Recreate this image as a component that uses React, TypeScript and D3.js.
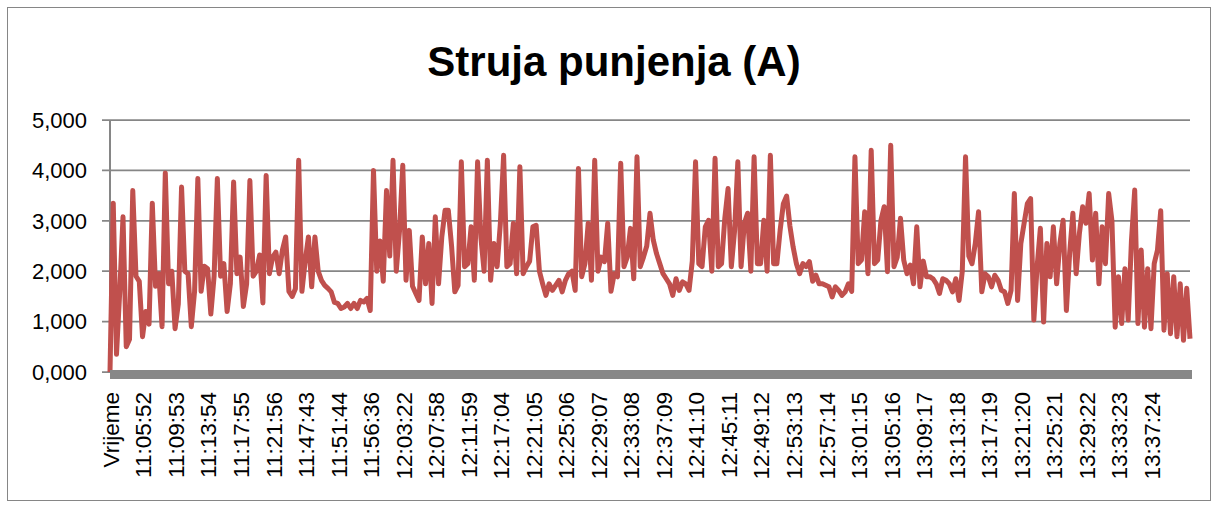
import React, { useEffect, useRef } from 'react';
import * as d3 from 'd3';

// x labels, one every 10 readings (first category is the header row)
const timeLabels = [
    'Vrijeme', '11:05:52', '11:09:53', '11:13:54', '11:17:55', '11:21:56', '11:47:43',
    '11:51:44', '11:56:36', '12:03:22', '12:07:58', '12:11:59', '12:17:04', '12:21:05',
    '12:25:06', '12:29:07', '12:33:08', '12:37:09', '12:41:10', '12:45:11', '12:49:12',
    '12:53:13', '12:57:14', '13:01:15', '13:05:16', '13:09:17', '13:13:18', '13:17:19',
    '13:21:20', '13:25:21', '13:29:22', '13:33:23', '13:37:24'
];
const labelEvery = 10;

const yTicks = [0, 1, 2, 3, 4, 5];

// Struja punjenja (A)
const current = [
    0, 3.35, 0.35, 1.6, 3.08, 0.5, 0.65, 3.6, 1.9, 1.8,
    0.7, 1.2, 0.95, 3.35, 1.7, 1.95, 0.9, 3.95, 1.75, 2.0,
    0.86, 1.35, 3.67, 2.0, 1.95, 0.9, 1.6, 3.84, 1.6, 2.1,
    2.05, 1.15, 1.9, 3.84, 1.9, 2.15, 1.2, 1.75, 3.77, 1.95,
    2.28, 1.3, 1.75, 3.8, 1.9, 2.0, 2.32, 1.37, 3.9, 1.95,
    2.28, 2.38, 1.95, 2.42, 2.68, 1.6, 1.5, 1.65, 4.2, 1.6,
    2.2, 2.68, 1.69, 2.68, 2.0, 1.82, 1.72, 1.66, 1.59, 1.38,
    1.36, 1.26, 1.29, 1.36, 1.26, 1.36, 1.26, 1.42, 1.39, 1.46,
    1.22, 4.0, 2.0, 2.6, 1.8, 3.6, 2.3, 4.2, 2.0, 2.8,
    4.1, 1.82, 2.81, 1.7, 1.56, 1.42, 2.68, 1.75, 2.55, 1.36,
    3.08, 1.75, 2.68, 3.21, 3.21, 2.5, 1.59, 1.72, 4.17, 2.09,
    2.15, 2.88, 1.82, 4.17, 2.68, 2.0, 4.2, 1.82, 2.55, 2.09,
    2.95, 4.3, 2.09, 2.15, 2.95, 1.95, 4.07, 1.95, 2.09, 2.2,
    2.88, 2.91, 2.0, 1.75, 1.52, 1.75, 1.62, 1.72, 1.82, 1.59,
    1.82, 1.95, 2.0, 1.62, 4.04, 1.89, 2.15, 2.95, 1.82, 4.2,
    2.0, 2.28, 2.19, 2.95, 1.6, 1.95, 1.89, 4.14, 2.09, 2.28,
    2.85, 1.85, 4.27, 2.09, 2.28, 2.5, 3.15, 2.62, 2.35, 2.15,
    1.95, 1.85, 1.75, 1.52, 1.85, 1.62, 1.79, 1.75, 1.62, 2.2,
    4.17, 2.15, 2.09, 2.88, 3.01, 2.0, 4.24, 2.09, 2.15, 3.05,
    3.64, 2.09, 2.8, 4.17, 2.09, 2.95, 3.15, 2.0, 4.27, 2.15,
    2.15, 3.01, 2.0, 4.3, 2.15, 2.15, 2.81, 3.34, 3.49, 2.9,
    2.48, 2.15, 1.95, 2.15, 2.09, 2.19, 1.8, 1.92, 1.75, 1.75,
    1.72, 1.69, 1.49, 1.69, 1.62, 1.52, 1.59, 1.75, 1.6, 4.27,
    2.15, 2.22, 3.18, 1.95, 4.4, 2.15, 2.22, 3.01, 3.28, 1.99,
    4.5, 2.09, 2.28, 3.05, 2.22, 1.95, 2.12, 1.75, 2.88, 1.69,
    2.2, 1.89, 1.89, 1.85, 1.75, 1.56, 1.85, 1.82, 1.75, 1.59,
    1.85, 1.42, 2.0, 4.27, 2.3, 2.15, 2.55, 3.18, 1.59, 1.95,
    1.89, 1.69, 1.92, 1.82, 1.62, 1.59, 1.36, 1.62, 3.54, 1.42,
    2.55, 2.95, 3.34, 3.44, 1.03, 2.09, 2.85, 0.99, 2.55, 1.89,
    2.88, 1.75, 2.55, 3.01, 1.22, 2.35, 3.15, 1.95, 2.75, 3.28,
    2.95, 3.54, 2.22, 3.15, 1.75, 2.88, 2.15, 3.54, 3.0, 0.89,
    1.89, 0.96, 2.05, 1.03, 2.6, 3.61, 0.96, 2.42, 0.89, 2.05,
    0.86, 2.15, 2.42, 3.2, 0.83, 1.95, 0.76, 1.89, 0.7, 1.75,
    0.63, 1.66, 0.66
];

const hrFormat = d3.formatLocale({
    decimal: ',', thousands: '.', grouping: [3], currency: ['', '']
}).format('.3f');

const App = () => {
    const ref = useRef<SVGSVGElement>(null);

    const width = 1217;
    const height = 506;
    // plot area
    const plot_x0 = 110;
    const plot_x1 = 1190;
    const plot_y0 = 120;
    const plot_y1 = 372;
    // colors
    const grid_color = '#868686';
    const line_color = '#C0504D';
    const font = '"Liberation Sans", Arial, sans-serif';

    useEffect(() => {
        const svg = d3.select(ref.current);
        svg.selectAll('*').remove();

        svg.append('rect')
            .attr('width', width)
            .attr('height', height)
            .attr('fill', '#FFFFFF');

        // chart frame
        svg.append('rect')
            .attr('x', 7.5)
            .attr('y', 7.5)
            .attr('width', 1203)
            .attr('height', 493)
            .attr('fill', 'none')
            .attr('stroke', grid_color)
            .attr('stroke-width', 1);

        const xScale = d3.scaleLinear()
            .domain([0, current.length - 1])
            .range([plot_x0, plot_x1]);

        const yScale = d3.scaleLinear()
            .domain([0, 5])
            .range([plot_y1, plot_y0]);

        // gridlines + tick marks
        svg.append('g')
            .selectAll('line')
            .data(yTicks)
            .enter().append('line')
            .attr('x1', plot_x0 - 8)
            .attr('x2', plot_x1)
            .attr('y1', d => yScale(d))
            .attr('y2', d => yScale(d))
            .attr('stroke', grid_color)
            .attr('stroke-width', 1.75);

        // y labels
        svg.append('g')
            .selectAll('text')
            .data(yTicks)
            .enter().append('text')
            .attr('x', 87)
            .attr('y', d => yScale(d))
            .attr('dy', '0.35em')
            .attr('text-anchor', 'end')
            .style('font-family', font)
            .style('font-size', '22px')
            .attr('fill', '#000000')
            .text(d => hrFormat(d));

        // y axis line
        svg.append('line')
            .attr('x1', plot_x0)
            .attr('x2', plot_x0)
            .attr('y1', plot_y0)
            .attr('y2', plot_y1)
            .attr('stroke', grid_color)
            .attr('stroke-width', 2);

        // series
        const line = d3.line<number>()
            .x((d, i) => xScale(i))
            .y(d => yScale(d));

        svg.append('path')
            .datum(current)
            .attr('d', line)
            .attr('fill', 'none')
            .attr('stroke', line_color)
            .attr('stroke-width', 5)
            .attr('stroke-linejoin', 'round');

        // thick category axis
        svg.append('rect')
            .attr('x', plot_x0)
            .attr('y', plot_y1 - 2)
            .attr('width', plot_x1 - plot_x0 + 2)
            .attr('height', 9)
            .attr('fill', '#878787');

        // x labels
        svg.append('g')
            .selectAll('text')
            .data(timeLabels)
            .enter().append('text')
            .attr('transform', (d, k) => `translate(${xScale(k * labelEvery) + 1},392) rotate(-90)`)
            .attr('dy', '0.35em')
            .attr('text-anchor', 'end')
            .style('font-family', font)
            .style('font-size', '22.5px')
            .attr('fill', '#000000')
            .text(d => d);

        // title
        svg.append('text')
            .attr('x', 614)
            .attr('y', 76)
            .attr('text-anchor', 'middle')
            .style('font-family', font)
            .style('font-size', '42px')
            .style('font-weight', 'bold')
            .attr('fill', '#000000')
            .text('Struja punjenja (A)');
    }, []);

    return (
        <svg ref={ref} width={width} height={height}
            style={{ position: 'absolute', left: 0, top: 0, display: 'block' }}></svg>
    );
};

export default App;
